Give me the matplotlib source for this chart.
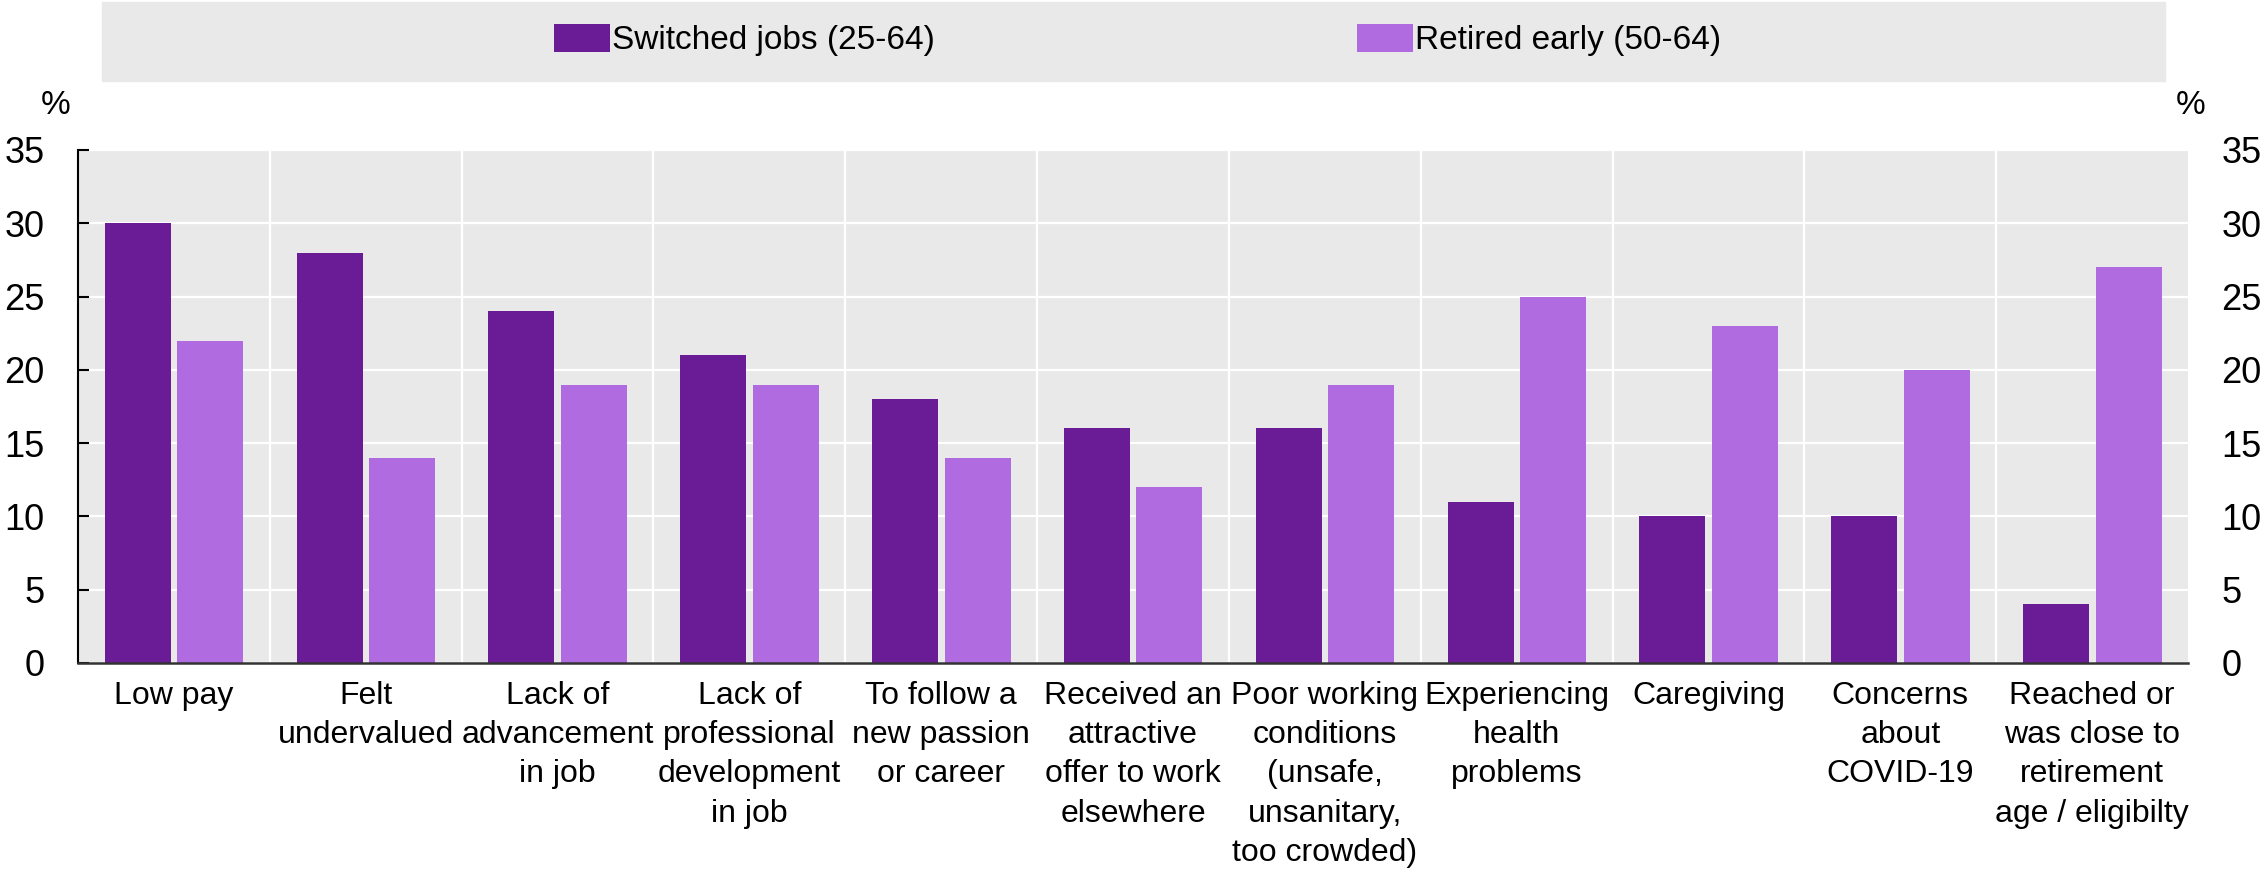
import matplotlib.pyplot as plt
import matplotlib.patches as mpatches
import numpy as np

plt.rcParams['font.family'] = ['Liberation Sans', 'DejaVu Sans']

reasons = ["Low pay", "Felt\nundervalued", "Lack of\nadvancement\nin job",
           "Lack of\nprofessional\ndevelopment\nin job", "To follow a\nnew passion\nor career",
           "Received an\nattractive\noffer to work\nelsewhere",
           "Poor working\nconditions\n(unsafe,\nunsanitary,\ntoo crowded)",
           "Experiencing\nhealth\nproblems", "Caregiving", "Concerns\nabout\nCOVID-19",
           "Reached or\nwas close to\nretirement\nage / eligibilty"]
switched = [30, 28, 24, 21, 18, 16, 16, 11, 10, 10, 4]
retired = [22, 14, 19, 19, 14, 12, 19, 25, 23, 20, 27]
series_names = ["Switched jobs (25-64)", "Retired early (50-64)"]
yticks = [0, 5, 10, 15, 20, 25, 30, 35]

dark = '#6A1B96'
light = '#AF6BDF'
grey_bg = '#E9E9E9'

W, H = 2260, 893
fig = plt.figure(figsize=(W / 100, H / 100), dpi=100)
ax = fig.add_axes([78 / W, 1 - 663 / H, 2110 / W, 513 / H])
ax.set_facecolor(grey_bg)

x = np.arange(len(reasons))
w = 0.344
b1 = ax.bar(x - 0.188, switched, w, color=dark, zorder=3)
b2 = ax.bar(x + 0.19, retired, w, color=light, zorder=3)

ax.set_xlim(-0.5, len(reasons) - 0.5)
ax.set_ylim(0, 35)
ax.set_yticks(yticks)
ax.set_xticks(x)
ax.set_xticklabels(reasons, fontsize=23, linespacing=1.4)
ax.tick_params(axis='x', length=0, pad=13)
ax.tick_params(axis='y', labelsize=26, length=8, width=1.5, direction='in', pad=24)

# white grid: horizontal at ticks, vertical between the categories
ax.set_xticks(x[:-1] + 0.5, minor=True)
ax.tick_params(axis='x', which='minor', length=0)
ax.grid(axis='y', color='white', linewidth=1.6, zorder=1)
ax.grid(axis='x', which='minor', color='white', linewidth=1.6, zorder=1)
ax.grid(axis='x', which='major', visible=False)
ax.set_axisbelow(True)

for s in ['top', 'right']:
    ax.spines[s].set_visible(False)
ax.spines['left'].set_linewidth(1.5)
ax.spines['bottom'].set_linewidth(1.8)
ax.spines['bottom'].set_color('#333333')
ax.spines['bottom'].set_zorder(4)

# same scale repeated on the right
ax2 = ax.twinx()
ax2.set_ylim(ax.get_ylim())
ax2.set_yticks(yticks)
ax2.tick_params(axis='y', labelsize=26, length=0, pad=24)
for s in ax2.spines.values():
    s.set_visible(False)

fig.text(56 / W, 1 - 105 / H, '%', fontsize=24, ha='center', va='center')
fig.text(2191 / W, 1 - 105 / H, '%', fontsize=24, ha='center', va='center')

# legend band across the top
fig.patches.append(mpatches.Rectangle((102 / W, 1 - 81 / H), 2063 / W, 79 / H,
                                      transform=fig.transFigure, color=grey_bg, zorder=0))
for handle, name, x0 in [(b1, series_names[0], 554), (b2, series_names[1], 1357)]:
    fig.legend([handle], [name], loc='center left', bbox_to_anchor=(x0 / W, 1 - 40 / H),
               frameon=False, fontsize=24, handlelength=1.68, handleheight=0.9,
               handletextpad=0.05, borderpad=0, borderaxespad=0)

fig.savefig('out.png', dpi=100)
